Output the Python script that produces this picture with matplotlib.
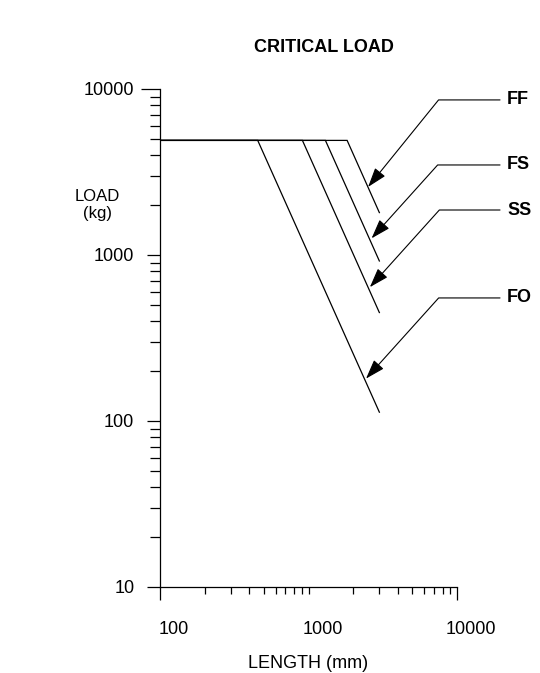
import matplotlib
matplotlib.use('Agg')
import matplotlib.pyplot as plt
from matplotlib.transforms import ScaledTranslation

plt.rcParams['font.family'] = ['Liberation Sans', 'DejaVu Sans']

# column end conditions
series = ['FF', 'FS', 'SS', 'FO']
start_len = 100
plateau_load = 4900
break_len = [1820, 1300, 910, 455]
end_len = 3000
end_load = [1800, 920, 450, 113]

# arrow tips and label positions (data coords)
tip_len = [2520, 2660, 2590, 2440]
tip_load = [2570, 1260, 640, 180]
label_len = 21700
label_load = [8590, 3485, 1866, 551]
arrow_angle = [51, 48, 48, 48]

fig = plt.figure(figsize=(5.4, 6.73), dpi=100)
ax = fig.add_axes([0.2963, 0.1278, 0.55, 0.74])

for i, name in enumerate(series):
    ax.plot([start_len, break_len[i], end_len],
            [plateau_load, plateau_load, end_load[i]],
            color='black', lw=0.9, solid_joinstyle='miter')
    ax.annotate(name, xy=(tip_len[i], tip_load[i]),
                xytext=(label_len, label_load[i]),
                ha='left', va='center', fontsize=13, fontweight='bold',
                annotation_clip=False,
                arrowprops=dict(arrowstyle='-|>,head_length=0.6,head_width=0.2',
                                mutation_scale=20, color='black', lw=0.8,
                                connectionstyle='angle,angleA=0,angleB=%d,rad=0' % arrow_angle[i],
                                relpos=(0, 0.5), shrinkA=3, shrinkB=0))

ax.set_xscale('log')
ax.set_yscale('log')
ax.set_xlim(100, 10000)
ax.set_ylim(10, 10000)
ax.set_xticks([100, 1000, 10000])
ax.set_xticklabels(['100', '1000', '10000'])
ax.set_yticks([10, 100, 1000, 10000])
ax.set_yticklabels(['10', '100', '1000', '10000'])

for s in ['top', 'right']:
    ax.spines[s].set_visible(False)
for s in ['left', 'bottom']:
    ax.spines[s].set_linewidth(0.9)

ax.tick_params(which='major', length=9.5, width=0.9, pad=9, labelsize=13, direction='out')
ax.tick_params(which='minor', length=5, width=0.9, direction='out')
ax.tick_params(axis='y', which='minor', length=7)
ax.tick_params(axis='x', which='major', pad=15)

# 1000 on the x axis has a short tick in the original
ax.xaxis.get_major_ticks()[1].tick1line.set_markersize(5)
ax.yaxis.get_major_ticks()[3].tick1line.set_markersize(13.5)

offset = ScaledTranslation(0.14, 0, fig.dpi_scale_trans)
for lab in ax.get_xticklabels():
    lab.set_transform(lab.get_transform() + offset)

ax.set_xlabel('LENGTH (mm)', fontsize=13, labelpad=12)
fig.text(97 / 540, 1 - 205 / 673, 'LOAD\n(kg)', ha='center', va='center', fontsize=12)
fig.text(0.6, 1 - 47 / 673, 'CRITICAL LOAD', ha='center', va='center',
         fontsize=13, fontweight='bold')

plt.savefig('out.png', dpi=100)
